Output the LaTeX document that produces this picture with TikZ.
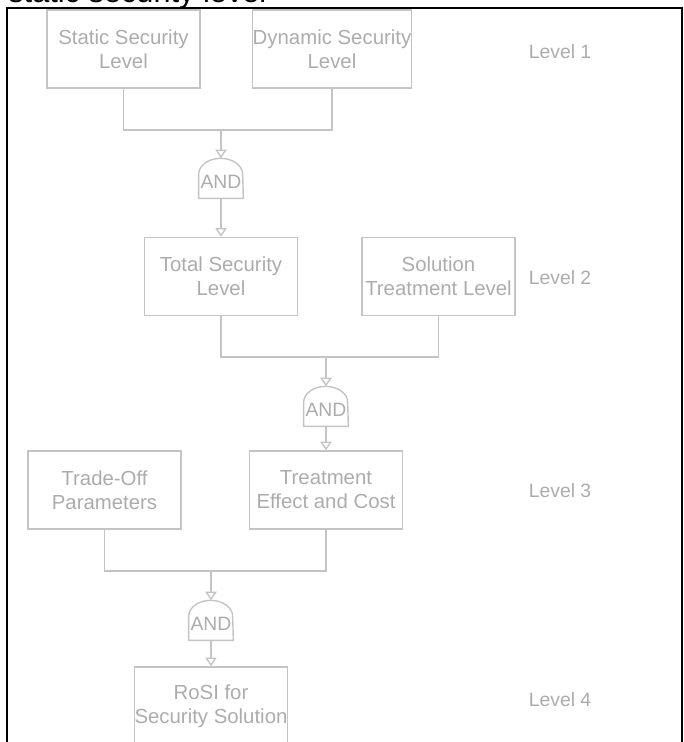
\documentclass[tikz,border=0pt]{standalone}
\usepackage{fontspec}
\setmainfont{Liberation Sans}
\usetikzlibrary{arrows.meta,calc}

\definecolor{linegray}{RGB}{196,196,196}
\definecolor{textgray}{RGB}{172,172,172}

\tikzset{
  block/.style={draw=linegray, line width=0.8pt, text=textgray, align=center,
    minimum width=3.06cm, minimum height=1.56cm, inner sep=0pt,
    font=\fontsize{11.6}{13.6}\selectfont},
  levellabel/.style={text=textgray, font=\fontsize{11}{13}\selectfont},
  gatebody/.style={text=textgray, minimum width=0.88cm, minimum height=0.64cm,
    inner sep=0pt, font=\fontsize{11}{13}\selectfont},
  wire/.style={draw=linegray, line width=0.8pt},
  feed/.style={wire, -{Triangle[open, width=6.5pt, length=5pt]}},
}

% outline of an AND gate round a gate node
\newcommand{\andshape}[1]{%
  \draw[wire] (#1.south west) -- ++(0,-24)
    arc[start angle=180, end angle=360, x radius=22, y radius=16] -- (#1.south east) -- cycle;
  \coordinate (#1 top) at ($(#1.south)+(0,-40)$);
}

\begin{document}
\begin{tikzpicture}[x=0.02cm, y=-0.02cm]
\useasboundingbox (0,0) rectangle (683,742);

% Cut-off title and frame
\node[anchor=base west, inner sep=0pt, font=\fontsize{17.5}{20}\selectfont] (title) at (8,3) {static security level};
\draw[line width=1.3pt] (7,760) -- (7,8) -- (682,8) -- (682,760);

% Level 1
\node[block] (static) at (123.5,49) {Static Security\\Level};
\node[block] (dynamic) at (332,49) {Dynamic Security\\Level};
\node[levellabel] (lv1) at (560,52) {Level 1};
\coordinate (j1) at (221,130);
\draw[wire] (static.south) |- (j1) -| (dynamic.south);
\node[gatebody] (g1) at (221,182) {AND};
\andshape{g1}
\draw[feed] (j1) -- (g1 top);

% Level 2
\node[block] (total) at (221,276.5) {Total Security\\Level};
\node[block] (solution) at (438.5,276.5) {Solution\\Treatment Level};
\node[levellabel] (lv2) at (560,278) {Level 2};
\draw[feed] (g1.south) -- (total.north);
\coordinate (j2) at (326,357);
\draw[wire] (total.south) |- (j2) -| (solution.south);
\node[gatebody] (g2) at (326,410) {AND};
\andshape{g2}
\draw[feed] (j2) -- (g2 top);

% Level 3
\node[block] (tradeoff) at (104.5,490) {Trade-Off\\Parameters};
\node[block] (treatment) at (326,490) {Treatment\\Effect and Cost};
\node[levellabel] (lv3) at (560,491) {Level 3};
\draw[feed] (g2.south) -- (treatment.north);
\coordinate (j3) at (211,571);
\draw[wire] (tradeoff.south) |- (j3) -| (treatment.south);
\node[gatebody] (g3) at (211,624) {AND};
\andshape{g3}
\draw[feed] (j3) -- (g3 top);

% Level 4
\node[block] (rosi) at (211,706) {RoSI for\\Security Solution};
\node[levellabel] (lv4) at (560,700) {Level 4};
\draw[feed] (g3.south) -- (rosi.north);
\end{tikzpicture}
\end{document}
